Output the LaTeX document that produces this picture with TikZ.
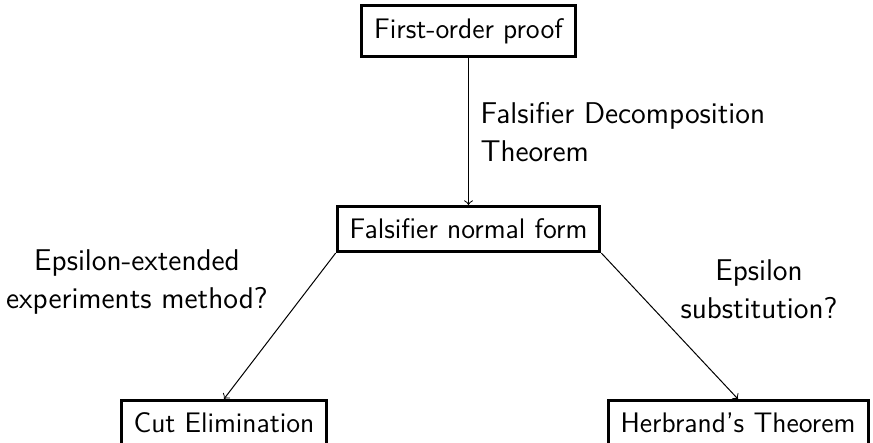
\documentclass[tikz,border=0pt]{standalone}
\begin{document}
\begin{tikzpicture}[x=0.4pt,y=-0.4pt,
  box/.style={draw, line width=1.2pt, inner sep=5pt,
    font=\sffamily\fontsize{11.3}{13}\selectfont},
  lbl/.style={inner sep=0pt, font=\sffamily\fontsize{12}{15.2}\selectfont},
  link/.style={->, line width=0.4pt}]
  \useasboundingbox (0,0) rectangle (873,442);

  % proof stages
  \node[box] (fop)  at (468.5,31)  {First-order proof};
  \node[box] (fnf)  at (468.5,229) {Falsifier normal form};
  \node[box] (cut)  at (224,423)   {Cut Elimination};
  \node[box] (herb) at (738,423)   {Herbrand's Theorem};

  % transformations between stages
  \draw[link] (fop) -- (fnf);
  \draw[link] (fnf.south west) -- (cut.north);
  \draw[link] (fnf.south east) -- (herb.north);

  % labels of the transformations
  \node[lbl, anchor=north west, align=left] (ldec) at (480,102)
    {Falsifier Decomposition\\Theorem};
  \node[lbl, anchor=north, align=center] (lexp) at (137,249)
    {Epsilon-extended\\experiments method?};
  \node[lbl, anchor=north, align=center] (lsub) at (759,259)
    {Epsilon\\substitution?};
\end{tikzpicture}
\end{document}
